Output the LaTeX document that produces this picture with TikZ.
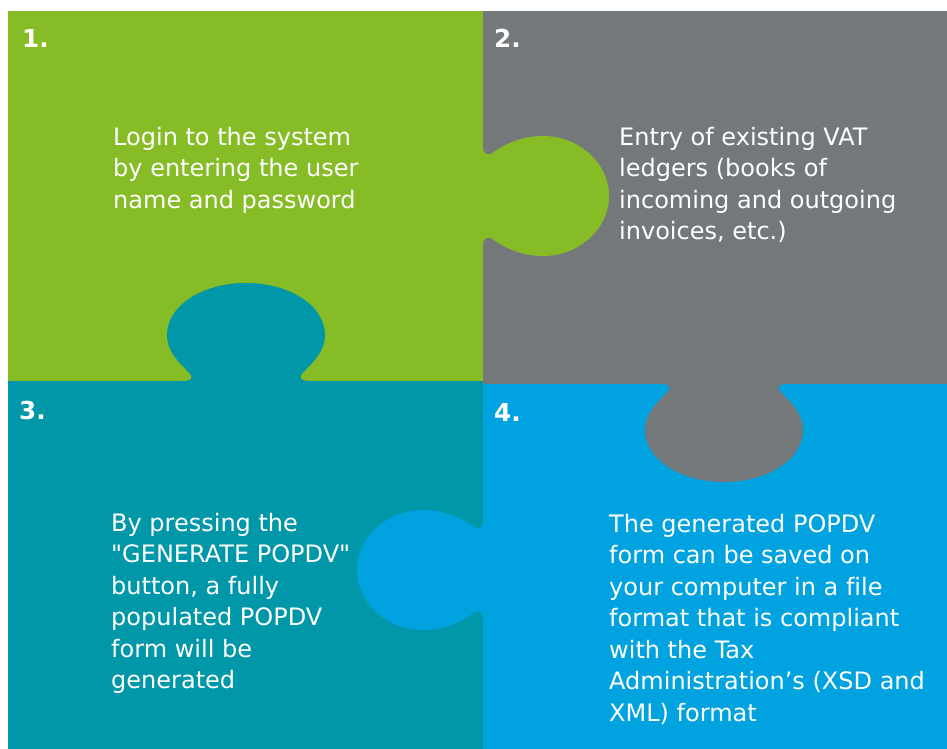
\documentclass[tikz,border=0pt]{standalone}
\usepackage{fontspec}
\setmainfont{DejaVu Sans}[Ligatures={TeXOff,NoCommon}]
\definecolor{cgreen}{HTML}{86BC25}
\definecolor{cgray}{HTML}{75787B}
\definecolor{cteal}{HTML}{0097A9}
\definecolor{cblue}{HTML}{00A3E0}
\newcommand{\bodytxt}{\fontsize{24}{31.5}\selectfont}
\newcommand{\numtxt}{\fontsize{24.7}{30}\selectfont\bfseries}
\tikzset{
  widetab/.pic={
    \path[pic actions] (-64,-3) -- (-64,0)
      .. controls (-56,0) and (-53,2) .. (-55,6)
      .. controls (-60,13) and (-79,26) .. (-79,46)
      .. controls (-79,75) and (-44,98) .. (0,98)
      .. controls (44,98) and (79,75) .. (79,46)
      .. controls (79,26) and (60,13) .. (55,6)
      .. controls (53,2) and (56,0) .. (64,0) -- (64,-3) -- cycle;
  },
  roundtab/.pic={
    \path[pic actions] (-47,-3) -- (-47,0)
      .. controls (-43,0) and (-41,4) .. (-42,8)
      .. controls (-48,16) and (-60,34) .. (-60,60)
      .. controls (-60,96) and (-33,126) .. (0,126)
      .. controls (33,126) and (60,96) .. (60,60)
      .. controls (60,34) and (48,16) .. (42,8)
      .. controls (41,4) and (43,0) .. (47,0) -- (47,-3) -- cycle;
  },
  bodynode/.style={anchor=north west, inner sep=0pt, align=left, text=white, font=\bodytxt},
  numnode/.style={anchor=base west, inner sep=0pt, text=white, font=\numtxt},
}
\begin{document}
\begin{tikzpicture}[x=1pt,y=1pt]
\useasboundingbox (0,0) rectangle (947,-749);
\fill[white] (0,0) rectangle (947,-749);
% panels
\fill[cgreen] (8,-11) rectangle (483,-381);
\fill[cgray] (483,-11) rectangle (947,-384);
\fill[cteal] (8,-381) rectangle (483,-749);
\fill[cblue] (483,-384) rectangle (947,-749);
% tabs
\pic[fill=cteal] at (246,-381) {widetab};
\pic[fill=cgray, rotate=180] at (724,-384) {widetab};
\pic[fill=cgreen, rotate=-90] at (483,-196) {roundtab};
\pic[fill=cblue, rotate=90] at (483,-570) {roundtab};
% numbers
\node[numnode] (n1) at (22,-48) {1.};
\node[numnode] (n2) at (494,-48) {2.};
\node[numnode] (n3) at (19,-419) {3.};
\node[numnode] (n4) at (494,-421) {4.};
% texts
\node[bodynode] (t1) at (113,-123) {\strut Login to the system\\by entering the user\\name and password};
\node[bodynode] (t2) at (619,-123) {\strut Entry of existing VAT\\ledgers (books of\\incoming and outgoing\\invoices, etc.)};
\node[bodynode] (t3) at (111,-509) {\strut By pressing the\\"GENERATE POPDV"\\button, a fully\\populated POPDV\\form will be\\generated};
\node[bodynode] (t4) at (609,-510) {\strut The generated POPDV\\form can be saved on\\your computer in a file\\format that is compliant\\with the Tax\\Administration’s (XSD and\\XML) format};
\end{tikzpicture}
\end{document}
